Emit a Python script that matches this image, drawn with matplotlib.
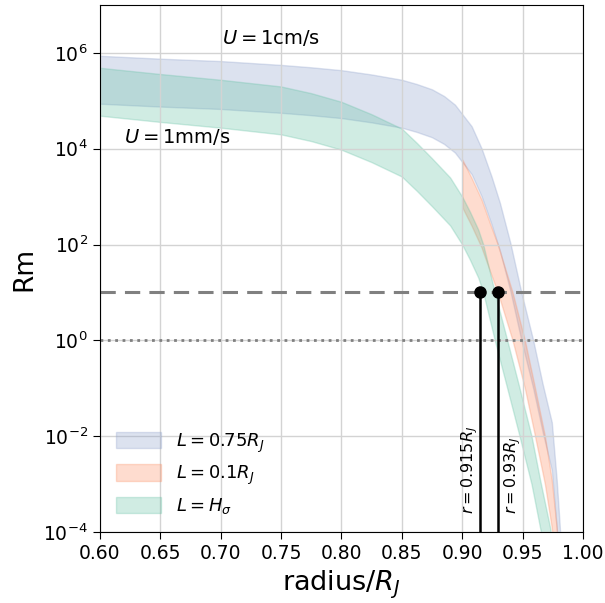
import numpy as np
import matplotlib
matplotlib.use("Agg")
import matplotlib.pyplot as plt
from matplotlib.patches import Patch

# velocities bounding each band (m/s): 1 mm/s and 1 cm/s
U_low, U_high = 1e-3, 1e-2

# log10 Rm for U = 1 cm/s
x_big = [0.60, 0.65, 0.70, 0.75, 0.775, 0.80, 0.825, 0.85, 0.8625, 0.875, 0.885,
         0.894, 0.9078, 0.916, 0.9243, 0.9312, 0.940, 0.949, 0.9588, 0.9665,
         0.9742, 0.9782, 0.9804, 0.9818]
logRm_big = [5.94, 5.88, 5.83, 5.75, 5.70, 5.64, 5.55, 5.44, 5.35, 5.24, 5.10,
             4.92, 4.47, 4.01, 3.42, 2.87, 2.02, 1.0, 0.0, -0.9,
             -1.71, -2.9, -3.73, -4.3]

x_small = [0.9002, 0.9078, 0.916, 0.9229, 0.9295, 0.9417, 0.9519, 0.9595,
           0.9685, 0.9741, 0.9782, 0.9795]
logRm_small = [3.77, 3.39, 2.94, 2.45, 2.0, 1.0, 0.0, -0.9,
               -2.0, -2.9, -3.9, -4.3]

x_H = [0.60, 0.65, 0.70, 0.75, 0.775, 0.80, 0.825, 0.85, 0.8625, 0.875, 0.8825,
       0.89, 0.90, 0.9065, 0.9133, 0.9174, 0.927, 0.9373, 0.947, 0.9574,
       0.9644, 0.9727, 0.975]
logRm_H = [5.69, 5.56, 5.44, 5.30, 5.16, 4.98, 4.72, 4.42, 4.12, 3.80, 3.60,
           3.40, 3.0, 2.68, 2.31, 2.0, 1.0, 0.0, -0.95, -2.0,
           -2.9, -3.9, -4.3]

Rm_crit = 10
r_cross = [0.915, 0.93]
r_labels = [r"$r=0.915R_J$", r"$r=0.93R_J$"]
label_dx = [-0.0088, 0.0118]

c_big, c_small, c_H = "#8da0cb", "#fc8d62", "#66c2a5"

fig = plt.figure(figsize=(6.05, 6.03), dpi=100)
ax = fig.add_axes([0.165, 0.1177, 0.7986, 0.874])

def band(x, logRm, color):
    up = 10 ** np.array(logRm)
    ax.fill_between(x, up * U_low / U_high, up, color=color, alpha=0.3, lw=1)

band(x_big, logRm_big, c_big)
band(x_small, logRm_small, c_small)
band(x_H, logRm_H, c_H)

ax.axhline(Rm_crit, color="grey", ls="--", lw=2.2, dashes=(5, 3))
ax.axhline(1, color="grey", ls=":", lw=2)

for r, lab, dx in zip(r_cross, r_labels, label_dx):
    ax.vlines(r, 1e-4, Rm_crit, color="k", lw=1.8, zorder=4)
    ax.plot(r, Rm_crit, "o", color="k", ms=8, zorder=5)
    ax.text(r + dx, 2.4e-4, lab, rotation=90, ha="center", va="bottom", fontsize=11.5)

ax.text(0.701, 2.0e6, r"$U = 1$cm/s", fontsize=14, va="center")
ax.text(0.620, 1.8e4, r"$U = 1$mm/s", fontsize=14, va="center")

ax.set_yscale("log")
ax.set_xlim(0.6, 1.0)
ax.set_ylim(1e-4, 1e7)
ax.set_yticks([1e-4, 1e-2, 1e0, 1e2, 1e4, 1e6])
ax.yaxis.set_minor_locator(matplotlib.ticker.NullLocator())
ax.set_xticks(np.arange(0.6, 1.001, 0.05))
ax.tick_params(labelsize=13.5, length=5)
ax.grid(True, color="lightgrey", lw=1)
ax.set_xlabel(r"radius/$R_J$", fontsize=19.5)
ax.set_ylabel("Rm", fontsize=19)

handles = [Patch(facecolor=c, edgecolor=c, alpha=0.3) for c in (c_big, c_small, c_H)]
labels = [r"$L=0.75R_J$", r"$L=0.1R_J$", r"$L=H_\sigma$"]
ax.legend(handles, labels, loc="lower left", frameon=False, fontsize=13,
          handlelength=2.5, handleheight=1.0, bbox_to_anchor=(0.0, 0.0))

fig.savefig("out.png", dpi=100)
